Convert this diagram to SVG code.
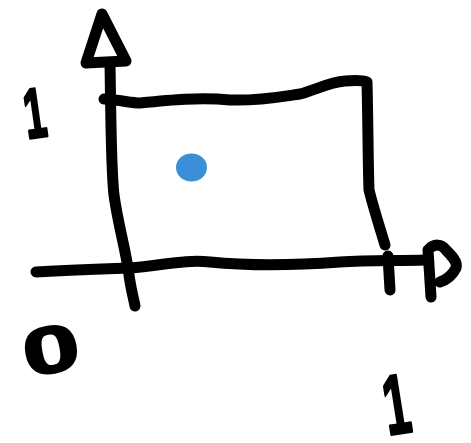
<svg xmlns="http://www.w3.org/2000/svg" width="471" height="443" viewBox="0 0 471 443">
<style>
.ink{fill:none;stroke:#000;stroke-width:11;stroke-linecap:round;stroke-linejoin:round}
.lbl{font-family:"Liberation Sans",Arial,sans-serif;font-weight:bold;fill:#000;stroke:#000;stroke-linejoin:round}
</style>
<rect width="471" height="443" fill="#fff"/>
<g id="axes">
<path class="ink" d="M110,64 C111,120 111,170 114,195 C118,225 126,250 129,275 C131,290 134,300 135,306"/>
<path class="ink" d="M102,14 L86,63 L126,61 Z"/>
<path class="ink" d="M36,272 C70,270 100,269 130,268 C160,266 185,259 210,262 C250,266 300,265 340,262 C370,260 400,261 425,260"/>
<path class="ink" d="M388,256 L390,290"/>
<path class="ink" d="M428,250 L431,297 M428,250 C434,243 442,244 446,250 C452,256 458,262 456,268 C452,276 446,280 440,282"/>
</g>
<g id="region">
<path class="ink" d="M104,99 C120,100 132,103 140,103 C170,100 200,97 230,100 C260,101 285,96 300,94 C315,90 330,82 345,81 C355,80 362,80 367,82 C368,120 368,160 369,190 C374,210 380,228 385,245"/>
</g>
<g id="point">
<ellipse cx="191.5" cy="167.5" rx="15.5" ry="14" fill="#3b8fd8"/>
</g>
<g id="labels">
<text class="lbl" font-size="70" stroke-width="3" text-anchor="middle" transform="translate(38,137) rotate(-8) scale(0.55,1)">1</text>
<text class="lbl" font-size="66" stroke-width="2" text-anchor="middle" transform="translate(55,372) rotate(-10) scale(1.55,1)">0</text>
<text class="lbl" font-size="84" stroke-width="3" text-anchor="middle" transform="translate(401,433) rotate(-9) scale(0.55,1)">1</text>
</g>
</svg>
